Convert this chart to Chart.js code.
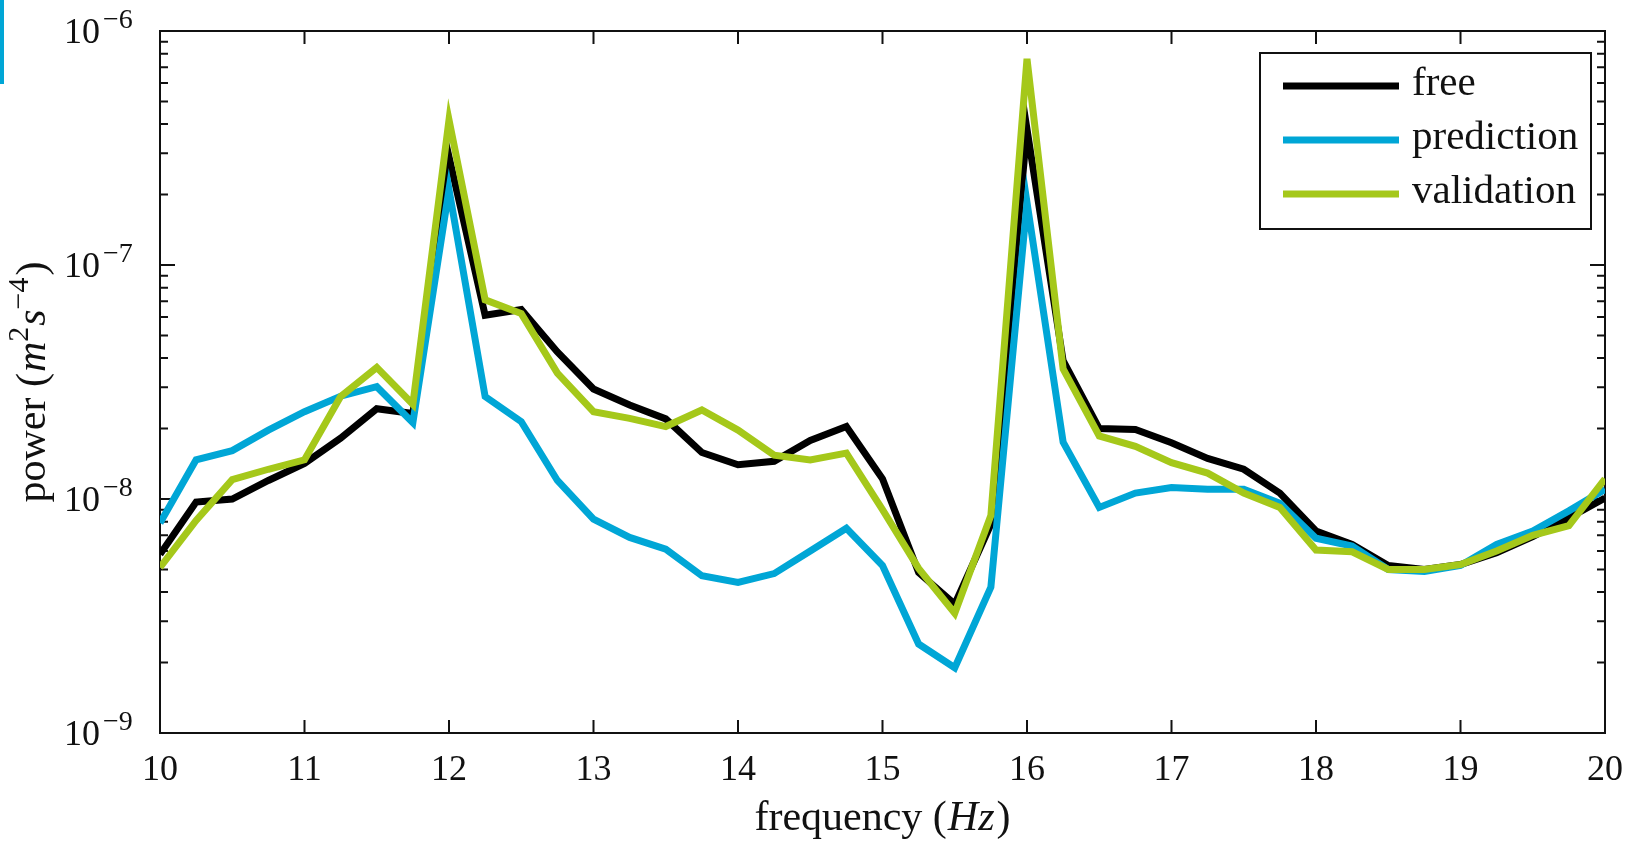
<!DOCTYPE html>
<html>
<head>
<meta charset="utf-8">
<script src="https://cdn.jsdelivr.net/npm/chart.js@4.4.1/dist/chart.umd.min.js"></script>
<style>
  html, body { margin: 0; padding: 0; background: #ffffff; }
  #wrap { position: relative; width: 1633px; height: 841px; }
  #accent { position: absolute; left: 0; top: 0; width: 4px; height: 84px; background: #00a6d6; }
</style>
</head>
<body>
<div id="wrap">
  <canvas id="c"></canvas>
  <div id="accent"></div>
</div>
<script>
// Frequency bins (Hz)
const frequency = [10, 10.25, 10.5, 10.75, 11, 11.25, 11.5, 11.75, 12, 12.25, 12.5, 12.75,
  13, 13.25, 13.5, 13.75, 14, 14.25, 14.5, 14.75, 15, 15.25, 15.5, 15.75, 16, 16.25, 16.5, 16.75,
  17, 17.25, 17.5, 17.75, 18, 18.25, 18.5, 18.75, 19, 19.25, 19.5, 19.75, 20];

// Power spectra (m^2 s^-4)
const free = [5.8e-9, 9.7e-9, 1.0e-8, 1.2e-8, 1.42e-8, 1.82e-8, 2.43e-8, 2.32e-8, 2.9e-7, 6.1e-8, 6.45e-8, 4.25e-8,
  2.95e-8, 2.52e-8, 2.2e-8, 1.58e-8, 1.4e-8, 1.45e-8, 1.78e-8, 2.04e-8, 1.22e-8, 4.85e-9, 3.55e-9, 7.8e-9,
  3.8e-7, 3.9e-8, 2.0e-8, 1.98e-8, 1.74e-8, 1.49e-8, 1.34e-8, 1.06e-8, 7.3e-9, 6.4e-9, 5.2e-9, 5.0e-9,
  5.25e-9, 5.9e-9, 6.9e-9, 8.3e-9, 1.01e-8];

const prediction = [7.9e-9, 1.47e-8, 1.61e-8, 1.97e-8, 2.36e-8, 2.75e-8, 3.02e-8, 2.12e-8, 2.1e-7, 2.74e-8, 2.14e-8, 1.2e-8,
  8.2e-9, 6.85e-9, 6.1e-9, 4.7e-9, 4.4e-9, 4.8e-9, 6.0e-9, 7.5e-9, 5.2e-9, 2.4e-9, 1.9e-9, 4.2e-9,
  1.85e-7, 1.75e-8, 9.2e-9, 1.06e-8, 1.12e-8, 1.1e-8, 1.1e-8, 9.6e-9, 6.8e-9, 6.3e-9, 5.0e-9, 4.9e-9,
  5.2e-9, 6.4e-9, 7.3e-9, 8.9e-9, 1.1e-8];

const validation = [5.1e-9, 8.1e-9, 1.21e-8, 1.34e-8, 1.47e-8, 2.74e-8, 3.65e-8, 2.54e-8, 4.17e-7, 7.1e-8, 6.2e-8, 3.45e-8,
  2.36e-8, 2.21e-8, 2.04e-8, 2.4e-8, 1.97e-8, 1.54e-8, 1.47e-8, 1.57e-8, 9.0e-9, 5.05e-9, 3.25e-9, 8.5e-9,
  7.6e-7, 3.6e-8, 1.86e-8, 1.68e-8, 1.43e-8, 1.29e-8, 1.06e-8, 9.2e-9, 6.05e-9, 5.95e-9, 5.0e-9, 5.0e-9,
  5.25e-9, 6.0e-9, 7.0e-9, 7.7e-9, 1.22e-8];

const seriesNames = ['free', 'prediction', 'validation'];
const xTickValues = [10, 11, 12, 13, 14, 15, 16, 17, 18, 19, 20];
const yDecades = [-9, -8, -7, -6];

const SERIF = '"Liberation Serif", "DejaVu Serif", serif';
const COLORS = ['#000000', '#00a6d6', '#a5c81a'];

function pts(values) {
  return frequency.map((f, i) => ({ x: f, y: values[i] }));
}

// Boxed axes with inward ticks on all four sides
const framePlugin = {
  id: 'frame',
  beforeDatasetsDraw(chart) {
    const { ctx, chartArea: a, scales: { x, y } } = chart;
    ctx.save();
    ctx.strokeStyle = '#111';
    ctx.lineWidth = 2;
    ctx.beginPath();
    for (const v of xTickValues) {
      const px = x.getPixelForValue(v);
      ctx.moveTo(px, a.bottom); ctx.lineTo(px, a.bottom - 13);
      ctx.moveTo(px, a.top); ctx.lineTo(px, a.top + 13);
    }
    for (const e of yDecades) {
      for (let m = 1; m <= 9; m++) {
        if (e === yDecades[yDecades.length - 1] && m > 1) break;
        const py = y.getPixelForValue(m * Math.pow(10, e));
        const len = m === 1 ? 15 : 8;
        ctx.moveTo(a.left, py); ctx.lineTo(a.left + len, py);
        ctx.moveTo(a.right, py); ctx.lineTo(a.right - len, py);
      }
    }
    ctx.stroke();
    ctx.strokeRect(a.left, a.top, a.right - a.left, a.bottom - a.top);
    ctx.restore();
  }
};

// Legend box inside the plot, top right
const legendPlugin = {
  id: 'boxLegend',
  afterDatasetsDraw(chart) {
    const { ctx, chartArea: a } = chart;
    const w = 331, h = 176;
    const left = a.right - 345, top = a.top + 22;
    ctx.save();
    ctx.fillStyle = '#fff';
    ctx.fillRect(left, top, w, h);
    ctx.strokeStyle = '#111';
    ctx.lineWidth = 2;
    ctx.strokeRect(left, top, w, h);
    ctx.font = '41px ' + SERIF;
    ctx.textAlign = 'left';
    ctx.textBaseline = 'alphabetic';
    seriesNames.forEach((name, i) => {
      const ds = chart.data.datasets.find(d => d.label === name);
      const ly = top + 33 + i * 54;
      ctx.strokeStyle = ds.borderColor;
      ctx.lineWidth = 7;
      ctx.beginPath();
      ctx.moveTo(left + 23, ly);
      ctx.lineTo(left + 139, ly);
      ctx.stroke();
      ctx.fillStyle = '#111';
      ctx.fillText(name, left + 152, ly + 9);
    });
    ctx.restore();
  }
};

// Tick labels and axis titles
function drawRuns(ctx, runs, x, y) {
  let cx = x;
  for (const r of runs) {
    ctx.font = r.font;
    ctx.fillText(r.t, cx, y + (r.dy || 0));
    cx += ctx.measureText(r.t).width + (r.gap || 0);
  }
  return cx - x;
}
function runsWidth(ctx, runs) {
  let w = 0;
  for (const r of runs) { ctx.font = r.font; w += ctx.measureText(r.t).width + (r.gap || 0); }
  return w;
}

const labelPlugin = {
  id: 'labels',
  afterDraw(chart) {
    const { ctx, chartArea: a, scales: { x, y } } = chart;
    ctx.save();
    ctx.fillStyle = '#111';
    ctx.textBaseline = 'alphabetic';

    // x tick labels
    ctx.font = '36px ' + SERIF;
    ctx.textAlign = 'center';
    for (const v of xTickValues) {
      ctx.fillText(String(v), x.getPixelForValue(v), a.bottom + 47);
    }

    // y tick labels: 10^e
    ctx.textAlign = 'left';
    for (const e of yDecades) {
      const py = y.getPixelForValue(Math.pow(10, e));
      ctx.font = '36px ' + SERIF;
      const baseW = ctx.measureText('10').width;
      ctx.fillText('10', a.left - 96, py + 12);
      ctx.font = '28px ' + SERIF;
      ctx.fillText('\u2212' + Math.abs(e), a.left - 96 + baseW + 3, py - 3);
    }

    // x axis title
    const reg = '42px ' + SERIF, ita = 'italic 42px ' + SERIF;
    const xr = [
      { t: 'frequency ', font: reg },
      { t: '(', font: reg, gap: 1 },
      { t: 'Hz', font: ita, gap: 2 },
      { t: ')', font: reg }
    ];
    const xw = runsWidth(ctx, xr);
    drawRuns(ctx, xr, (a.left + a.right) / 2 - xw / 2, 830);

    // y axis title, rotated
    const sup = '30px ' + SERIF, supi = 'italic 30px ' + SERIF;
    const yr = [
      { t: 'power ', font: reg },
      { t: '(', font: reg, gap: 1 },
      { t: 'm', font: ita },
      { t: '2', font: sup, dy: -17, gap: 1 },
      { t: 's', font: ita },
      { t: '\u22124', font: sup, dy: -17, gap: 2 },
      { t: ')', font: reg }
    ];
    const yw = runsWidth(ctx, yr);
    ctx.translate(45, (a.top + a.bottom) / 2);
    ctx.rotate(-Math.PI / 2);
    drawRuns(ctx, yr, -yw / 2, 0);
    ctx.restore();
  }
};

new Chart(document.getElementById('c'), {
  type: 'line',
  data: {
    datasets: [
      { label: seriesNames[0], data: pts(free), borderColor: COLORS[0], order: 3 },
      { label: seriesNames[1], data: pts(prediction), borderColor: COLORS[1], order: 2 },
      { label: seriesNames[2], data: pts(validation), borderColor: COLORS[2], order: 1 }
    ]
  },
  options: {
    responsive: true,
    maintainAspectRatio: false,
    animation: false,
    events: [],
    elements: {
      line: { borderWidth: 7, tension: 0, fill: false, borderCapStyle: 'butt', borderJoinStyle: 'miter' },
      point: { radius: 0 }
    },
    layout: { padding: { top: 31, right: 28, left: 0, bottom: 0 } },
    plugins: { legend: { display: false }, tooltip: { enabled: false } },
    scales: {
      x: {
        type: 'linear', min: 10, max: 20,
        ticks: { display: false, stepSize: 1 },
        grid: { display: false }, border: { display: false },
        afterFit(s) { s.height = 108; }
      },
      y: {
        type: 'logarithmic', min: 1e-9, max: 1e-6,
        ticks: { display: false },
        grid: { display: false }, border: { display: false },
        afterFit(s) { s.width = 160; }
      }
    }
  },
  plugins: [framePlugin, legendPlugin, labelPlugin]
});
</script>
</body>
</html>
